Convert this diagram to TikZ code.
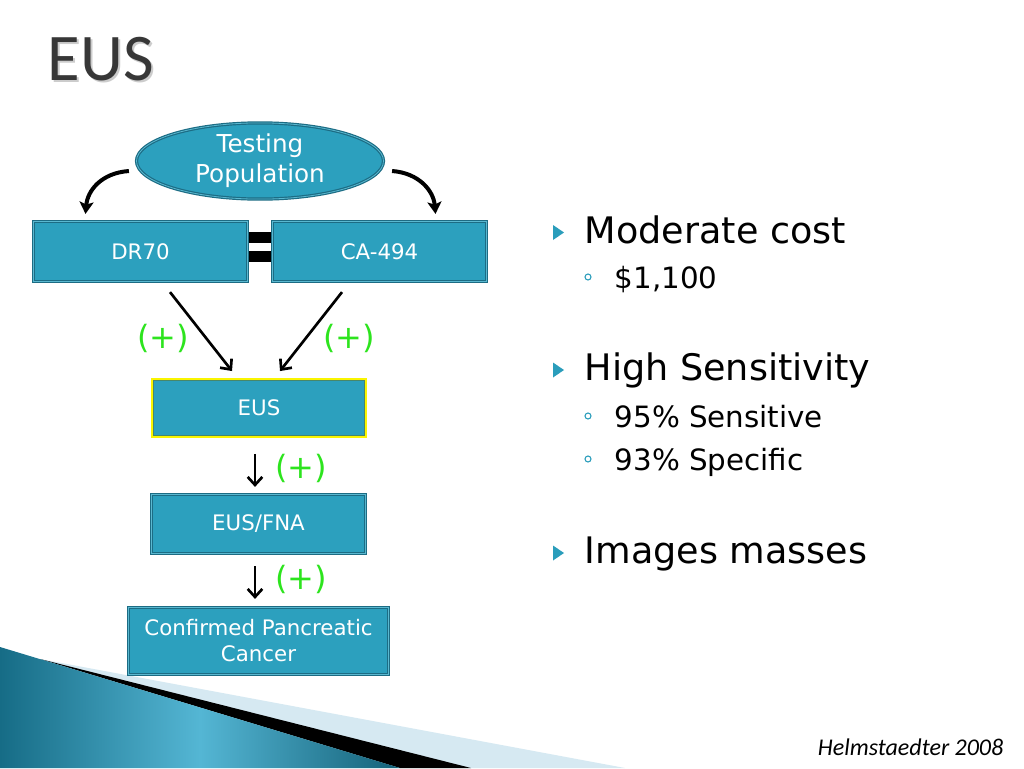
\documentclass[tikz,border=0pt]{standalone}
\usepackage{fontspec}
\setmainfont{DejaVu Sans}
\newfontfamily\titlefont{Carlito}
\usetikzlibrary{shapes.geometric,arrows.meta,calc}
\definecolor{boxfill}{RGB}{44,160,190}
\definecolor{boxline}{RGB}{28,108,132}
\definecolor{boxinner}{RGB}{90,184,208}
\definecolor{plusgreen}{RGB}{45,228,30}
\definecolor{bulletc}{RGB}{42,157,187}
\definecolor{titlegray}{RGB}{55,55,55}
\definecolor{wedgelight}{RGB}{214,233,242}
\definecolor{wedgedark}{RGB}{22,108,134}
\definecolor{wedgemid}{RGB}{84,182,212}
\definecolor{eusyellow}{RGB}{250,245,0}
\begin{document}
\begin{tikzpicture}[x=0.75pt,y=-0.75pt,
  boxbase/.style={fill=boxfill, text=white, align=center, inner sep=0pt},
  dbl/.style={draw=boxline, double=boxinner, line width=0.9pt, double distance=0.6pt},
  flowbox/.style={boxbase, dbl, rectangle, font=\fontsize{16}{19.5}\selectfont},
  popell/.style={boxbase, dbl, ellipse, font=\fontsize{18.5}{22.5}\selectfont},
  eusbox/.style={boxbase, rectangle, draw=eusyellow, line width=2.2pt, font=\fontsize{16}{19.5}\selectfont},
  bigarrow/.style={line width=3pt, -{Stealth[length=9pt,width=10.5pt,inset=2pt]}},
  thinarrow/.style={line width=2pt, -{Straight Barb[length=6pt,width=11pt]}},
  plus/.style={text=plusgreen, font=\fontsize{24}{28}\selectfont},
  main/.style={anchor=base west, font=\fontsize{27.4}{32}\selectfont},
  sub/.style={anchor=base west, font=\fontsize{22}{26}\selectfont},
  tri/.style={fill=bulletc},
  ring/.style={draw=bulletc, line width=0.8pt}
]
\useasboundingbox (0,0) rectangle (1024,768);
\fill[white] (0,0) rectangle (1024,768);

% title
\node[anchor=base west, text=gray!40, font=\titlefont\fontsize{50}{58}\selectfont] (titleshadow) at (45,82) {EUS};
\node[anchor=base west, text=titlegray, font=\titlefont\fontsize{50}{58}\selectfont] (title) at (43,80) {EUS};

% bottom-left decoration
\fill[wedgelight] (40,659) -- (625,768) -- (0,768) -- cycle;
\fill[black] (40,659) -- (471,768) -- (400,768) -- cycle;
\shade[left color=wedgedark, right color=wedgedark!90!black, middle color=wedgemid] (0,647) -- (400,768) -- (0,768) -- cycle;

% equal sign
\fill[black] (244,232) rectangle (277,243);
\fill[black] (244,251) rectangle (277,262);

% nodes
\node[popell, minimum width=185.25pt, minimum height=44.25pt] (pop) at (260,161) {Testing\\Population};
\node[flowbox, minimum width=160.5pt, minimum height=45pt] (dr) at (140.5,251.5) {DR70};
\node[flowbox, minimum width=160.5pt, minimum height=45pt] (ca) at (379.5,251.5) {CA-494};
\node[eusbox, minimum width=159.75pt, minimum height=42.75pt] (eus) at (259,408) {EUS};
\draw[boxline!80!eusyellow, line width=0.7pt] ([shift={(2.5,2.5)}]eus.north west) rectangle ([shift={(-2.5,-2.5)}]eus.south east);
\node[flowbox, minimum width=160.5pt, minimum height=44.25pt] (fna) at (258.5,524) {EUS/FNA};
\node[flowbox, minimum width=195pt, minimum height=50.25pt] (conf) at (258.5,641) {Confirmed Pancreatic\\Cancer};

% connectors
\draw[bigarrow] ($(pop.west)+(-7,10)$) .. controls ($(pop.west)+(-35,12)$) and ($(dr.north)+(-53,-30)$) .. ($(dr.north)+(-55,-7)$);
\draw[bigarrow] ($(pop.east)+(8,10)$) .. controls ($(pop.east)+(35,12)$) and ($(ca.north)+(54,-30)$) .. ($(ca.north)+(56,-7)$);
\draw[thinarrow] ($(dr.south)+(29.5,10)$) -- ($(eus.north)+(-27,-7)$);
\draw[thinarrow] ($(ca.south)+(-37.5,10)$) -- ($(eus.north)+(21,-7)$);
\draw[thinarrow] ($(eus.south)+(-4,16)$) -- ($(fna.north)+(-3.5,-7)$);
\draw[thinarrow] ($(fna.south)+(-3.5,12)$) -- ($(conf.north)+(-3.5,-8)$);

% (+) labels
\node[plus] (p1) at (163,338) {(+)};
\node[plus] (p2) at (349,338) {(+)};
\node[plus] (p3) at (301,468) {(+)};
\node[plus] (p4) at (301,579) {(+)};

% right bullet list
\fill[tri] (553,225) -- (564,232.5) -- (553,240) -- cycle;
\node[main] (m1) at (580,243) {Moderate cost};
\draw[ring] (588,277) circle (3);
\node[sub] (s1) at (610,288) {\$1,100};

\fill[tri] (553,362.5) -- (564,370) -- (553,377.5) -- cycle;
\node[main] (m2) at (580,380) {High Sensitivity};
\draw[ring] (588,416) circle (3);
\node[sub] (s2) at (610,427) {95\% Sensitive};
\draw[ring] (588,459) circle (3);
\node[sub] (s3) at (610,470) {93\% Specific};

\fill[tri] (553,545.5) -- (564,553) -- (553,560.5) -- cycle;
\node[main] (m3) at (580,563) {Images masses};

% citation
\node[anchor=base east, font=\titlefont\itshape\fontsize{18}{21}\selectfont] (cite) at (1008,755) {Helmstaedter 2008};
\end{tikzpicture}
\end{document}
